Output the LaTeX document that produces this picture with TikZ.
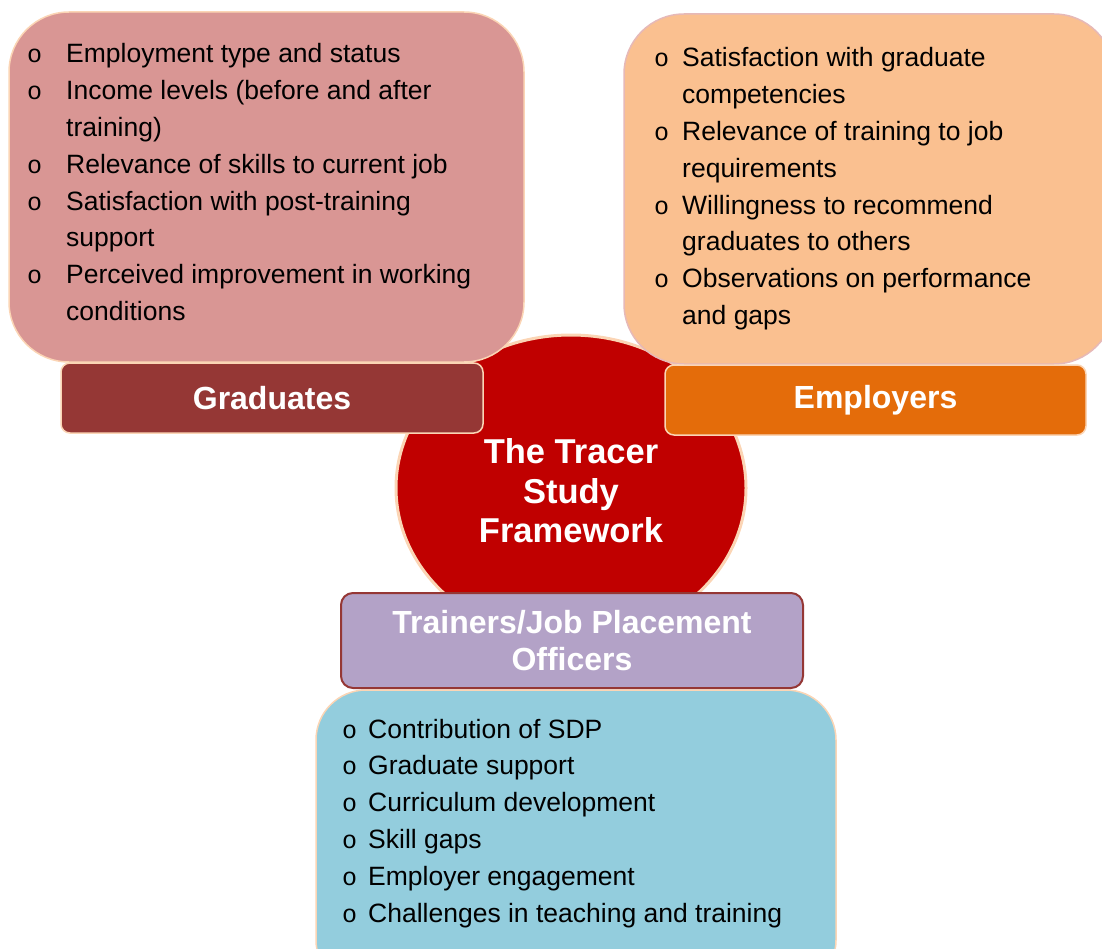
\documentclass[tikz,border=0pt]{standalone}
\usepackage{fontspec}
\setmainfont{Liberation Sans}
\newfontfamily\bulletfont{Liberation Mono}
\usetikzlibrary{shapes.geometric}

\definecolor{gradfill}{HTML}{D99694}
\definecolor{gradhead}{HTML}{953735}
\definecolor{empfill}{HTML}{FAC090}
\definecolor{emphead}{HTML}{E46C0A}
\definecolor{corered}{HTML}{C00000}
\definecolor{trainhead}{HTML}{B3A2C7}
\definecolor{trainfill}{HTML}{93CDDD}
\definecolor{peach}{HTML}{FBD5B5}
\definecolor{rose}{HTML}{E6B9B8}

% hollow bullet, a little smaller than the list text
\newcommand{\bul}{{\bulletfont\fontsize{25}{25}\selectfont o}}
\newcommand{\listsize}{\fontsize{26.5}{36.8}\selectfont}

\tikzset{
  listbox/.style={rectangle, rounded corners=60, draw=peach, line width=1.5, inner sep=0},
  headbox/.style={rectangle, rounded corners=9, draw=peach, line width=1.5, inner sep=0,
    text=white, font=\fontsize{32}{37}\selectfont\bfseries},
  listtext/.style={anchor=base west, inner sep=0, font=\listsize}
}

\begin{document}
\begin{tikzpicture}[x=1pt, y=-1pt]
\useasboundingbox (0,0) rectangle (1102,949);

% central hub
\node[ellipse, fill=corered, draw=peach, line width=3, minimum width=350, minimum height=306,
      inner sep=0] (core) at (571,488) {};
\node[text=white, align=center, font=\fontsize{34.5}{39.5}\selectfont\bfseries, inner sep=0]
  (coretxt) at (571,491) {The Tracer\\Study\\Framework};

% graduates
\node[listbox, fill=gradfill, minimum width=515, minimum height=350] (gradbox) at (266.5,187) {};
\node[headbox, fill=gradhead, minimum width=422, minimum height=70] (gradhead) at (272,398) {Graduates};
\node[listtext] (gradlist) at (27,63) {%
  \begin{tabular}[t]{@{}p{39pt}@{}l@{}}
  \bul & Employment type and status\\
  \bul & Income levels (before and after\\
       & training)\\
  \bul & Relevance of skills to current job\\
  \bul & Satisfaction with post-training\\
       & support\\
  \bul & Perceived improvement in working\\
       & conditions
  \end{tabular}};

% employers
\node[listbox, draw=rose, fill=empfill, minimum width=490, minimum height=350] (empbox) at (869,189) {};
\node[headbox, fill=emphead, minimum width=421, minimum height=70] (emphead) at (875.5,400) {Employers};
\node[listtext] (emplist) at (654,67) {%
  \begin{tabular}[t]{@{}p{28pt}@{}l@{}}
  \bul & Satisfaction with graduate\\
       & competencies\\
  \bul & Relevance of training to job\\
       & requirements\\
  \bul & Willingness to recommend\\
       & graduates to others\\
  \bul & Observations on performance\\
       & and gaps
  \end{tabular}};

% trainers / job placement officers
\node[listbox, rounded corners=50, fill=trainfill, minimum width=520, minimum height=300] (trainbox) at (576,840) {};
\node[headbox, rounded corners=12, draw=gradhead, line width=2, fill=trainhead, minimum width=462, minimum height=95,
      align=center] (trainhead) at (572,640.5) {Trainers/Job Placement\\Officers};
\node[listtext] (trainlist) at (342,738) {%
  \begin{tabular}[t]{@{}p{26pt}@{}l@{}}
  \bul & Contribution of SDP\\
  \bul & Graduate support\\
  \bul & Curriculum development\\
  \bul & Skill gaps\\
  \bul & Employer engagement\\
  \bul & Challenges in teaching and training
  \end{tabular}};
\end{tikzpicture}
\end{document}
